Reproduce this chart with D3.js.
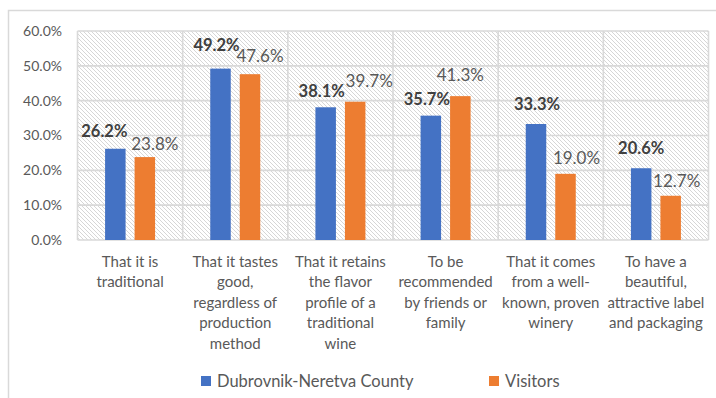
<!DOCTYPE html>
<html><head><meta charset="utf-8">
<script src="https://cdn.jsdelivr.net/npm/d3@7"></script>
<style>body{margin:0;background:#fff} svg{display:block}</style>
</head><body><svg id="c" width="716" height="398"></svg>
<script>
// ---- data ----
const categories = [
  ["That it is", "traditional"],
  ["That it tastes", "good,", "regardless of", "production", "method"],
  ["That it retains", "the flavor", "profile of a", "traditional", "wine"],
  ["To be", "recommended", "by friends or", "family"],
  ["That it comes", "from a well-", "known, proven", "winery"],
  ["To have a", "beautiful,", "attractive label", "and packaging"]
];
const seriesNames = ["Dubrovnik-Neretva County", "Visitors"];
const county = [26.2, 49.2, 38.1, 35.7, 33.3, 20.6];
const visitors = [23.8, 47.6, 39.7, 41.3, 19.0, 12.7];
const yTicks = [0, 10, 20, 30, 40, 50, 60];
// manual label nudges (dx, dy) relative to bar top-centre, as in the source
const countyLabelNudge = [[-11, -12], [-4, -18], [-4, -10], [-4, -11], [1, -14], [0, -14]];
const visitorsLabelNudge = [[10, -7], [10, -12], [14, -15], [0, -15], [11, -10], [6, -9]];

// ---- layout ----
const colors = ["#4472C4", "#ED7D31"];
const FONT = "Lato, 'Open Sans', sans-serif";
const svg = d3.select("#c");
const pLeft = 77.5, pRight = 708.5, pTop = 31, pBottom = 240;

svg.append("rect").attr("x", 8.5).attr("y", 10.5).attr("width", 760).attr("height", 420)
  .attr("fill", "#fff").attr("stroke", "#d9d9d9").attr("stroke-width", 1.5);

const defs = svg.append("defs");
const pat = defs.append("pattern").attr("id", "hatch").attr("patternUnits", "userSpaceOnUse")
  .attr("width", 4).attr("height", 4);
pat.append("rect").attr("width", 4).attr("height", 4).attr("fill", "#fff");
pat.append("path").attr("d", "M-1,-1L5,5M-1,3L1,5M3,-1L5,1")
  .attr("stroke", "#d6d6d6").attr("stroke-width", 1);

const x = d3.scaleBand().domain(d3.range(categories.length)).range([pLeft, pRight]).padding(0);
const xs = d3.scaleBand().domain([0, 1]).range([0, x.bandwidth()]).paddingInner(0.305).paddingOuter(0.935);
const y = d3.scaleLinear().domain([0, 60]).range([pBottom, pTop]);

svg.append("rect").attr("x", pLeft).attr("y", pTop).attr("width", pRight - pLeft).attr("height", pBottom - pTop)
  .attr("fill", "url(#hatch)");

const grid = svg.append("g").attr("stroke", "#d9d9d9").attr("stroke-width", 1.6);
grid.selectAll("line.h").data(yTicks).join("line").attr("class", "h")
  .attr("x1", pLeft).attr("x2", pRight).attr("y1", d => y(d)).attr("y2", d => y(d));
const edges = d3.range(categories.length + 1).map(i => i < categories.length ? x(i) : x(i - 1) + x.bandwidth());
grid.selectAll("line.v").data(edges).join("line").attr("class", "v")
  .attr("x1", d => d).attr("x2", d => d).attr("y1", pTop).attr("y2", pBottom);

// y axis labels
const yAxis = d3.axisLeft(y).tickValues(yTicks).tickFormat(d => d3.format(".1f")(d) + "%").tickSize(0).tickPadding(0);
const ya = svg.append("g").attr("transform", "translate(62,0)").call(yAxis);
ya.select(".domain").remove();
ya.selectAll("text").attr("fill", "#595959").style("font-family", FONT).style("font-size", "14px");

// x axis labels
const xa = svg.append("g");
categories.forEach((lines, i) => {
  const t = xa.append("text").attr("text-anchor", "middle").attr("fill", "#595959")
    .style("font-family", FONT).style("font-size", "15px");
  lines.forEach((l, j) => t.append("tspan").attr("x", x(i) + x.bandwidth() / 2).attr("y", 266.5 + j * 20.5).text(l));
});

// bars
const series = [county, visitors];
const nudges = [countyLabelNudge, visitorsLabelNudge];
series.forEach((vals, s) => {
  const g = svg.append("g");
  g.selectAll("rect").data(vals).join("rect")
    .attr("x", (d, i) => x(i) + xs(s)).attr("width", xs.bandwidth())
    .attr("y", d => y(d)).attr("height", d => y(0) - y(d)).attr("fill", colors[s]);
  g.selectAll("text").data(vals).join("text")
    .attr("x", (d, i) => x(i) + xs(s) + xs.bandwidth() / 2 + nudges[s][i][0])
    .attr("y", (d, i) => y(d) + nudges[s][i][1])
    .attr("text-anchor", "middle").attr("fill", s === 0 ? "#404040" : "#595959")
    .style("font-family", FONT).style("font-size", s === 0 ? "16.5px" : "17px")
    .style("font-weight", s === 0 ? "bold" : "normal")
    .text(d => d3.format(".1f")(d) + "%");
});

// legend
const legX = [201, 489];
seriesNames.forEach((n, s) => {
  svg.append("rect").attr("x", legX[s]).attr("y", 376).attr("width", 10).attr("height", 10).attr("fill", colors[s]);
  svg.append("text").attr("x", legX[s] + 16).attr("y", 386.5).attr("fill", "#595959")
    .style("font-family", FONT).style("font-size", "16.5px").text(n);
});
</script></body></html>
